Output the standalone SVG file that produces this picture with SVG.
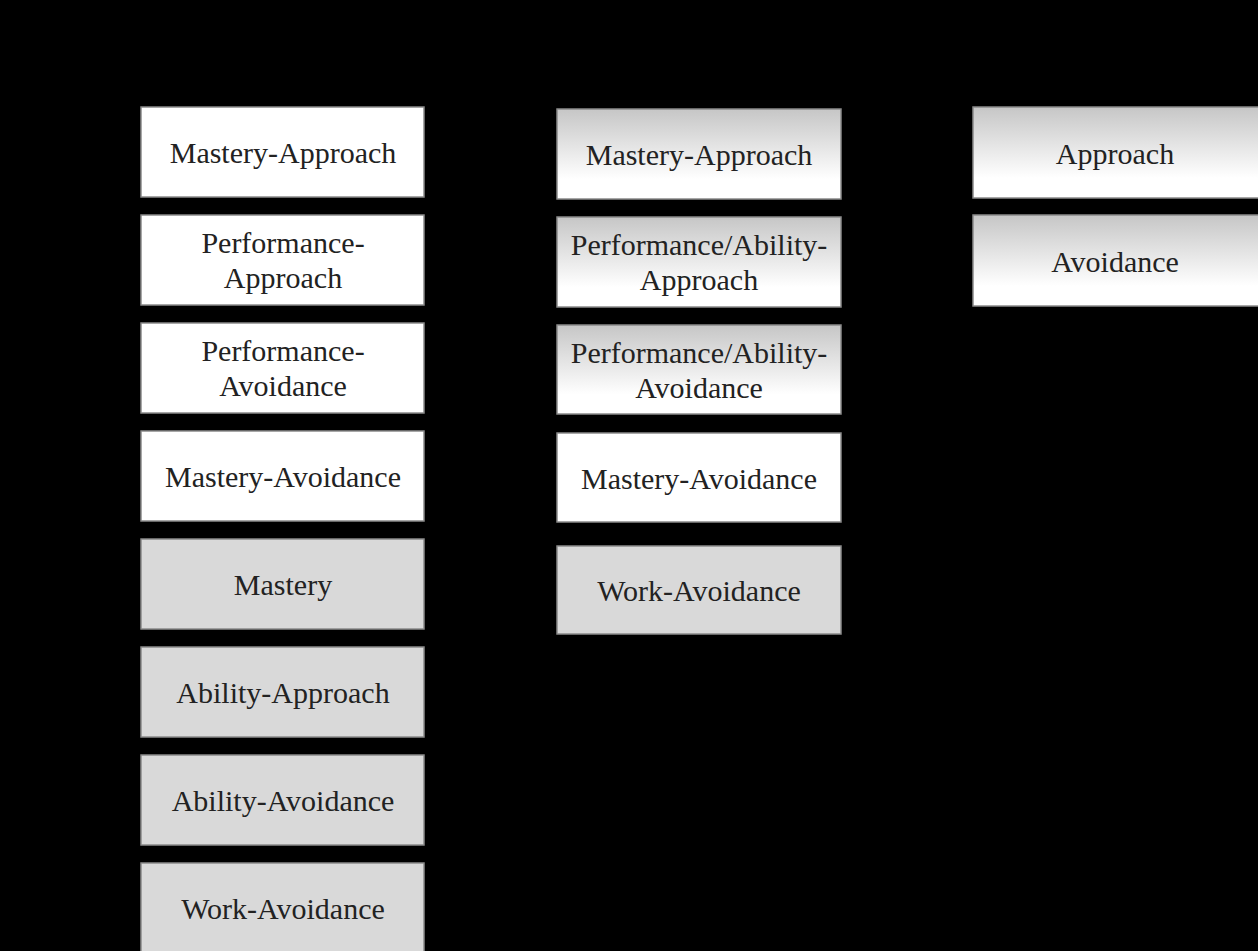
<svg xmlns="http://www.w3.org/2000/svg" width="1258" height="951" viewBox="0 0 1258 951">
<defs>
<linearGradient id="grad" x1="0" y1="0" x2="0" y2="1">
<stop offset="0" stop-color="#c6c6c6"/>
<stop offset="0.78" stop-color="#ffffff"/>
<stop offset="1" stop-color="#ffffff"/>
</linearGradient>
</defs>
<style>
.box{stroke:#8a8a8a;stroke-width:1.5}
.w{fill:#ffffff}
.g{fill:#d9d9d9}
.gr{fill:url(#grad)}
text{font-family:"Liberation Serif","Times New Roman",serif;font-size:30px;fill:#222222;text-anchor:middle}
</style>
<rect x="0" y="0" width="1258" height="951" fill="#000000"/>
<g id="col1">
<g id="n-c1-1"><rect class="box w" x="141" y="107" width="283" height="90"/><text x="283" y="163">Mastery-Approach</text></g>
<g id="n-c1-2"><rect class="box w" x="141" y="215" width="283" height="90"/><text x="283" y="253">Performance-</text><text x="283" y="288">Approach</text></g>
<g id="n-c1-3"><rect class="box w" x="141" y="323" width="283" height="90"/><text x="283" y="361">Performance-</text><text x="283" y="396">Avoidance</text></g>
<g id="n-c1-4"><rect class="box w" x="141" y="431" width="283" height="90"/><text x="283" y="487">Mastery-Avoidance</text></g>
<g id="n-c1-5"><rect class="box g" x="141" y="539" width="283" height="90"/><text x="283" y="595">Mastery</text></g>
<g id="n-c1-6"><rect class="box g" x="141" y="647" width="283" height="90"/><text x="283" y="703">Ability-Approach</text></g>
<g id="n-c1-7"><rect class="box g" x="141" y="755" width="283" height="90"/><text x="283" y="811">Ability-Avoidance</text></g>
<g id="n-c1-8"><rect class="box g" x="141" y="863" width="283" height="100"/><text x="283" y="919">Work-Avoidance</text></g>
</g>
<g id="col2">
<g id="n-c2-1"><rect class="box gr" x="557" y="109" width="284" height="90"/><text x="699" y="165">Mastery-Approach</text></g>
<g id="n-c2-2"><rect class="box gr" x="557" y="217" width="284" height="90"/><text x="699" y="255">Performance/Ability-</text><text x="699" y="290">Approach</text></g>
<g id="n-c2-3"><rect class="box gr" x="557" y="325" width="284" height="89"/><text x="699" y="363">Performance/Ability-</text><text x="699" y="398">Avoidance</text></g>
<g id="n-c2-4"><rect class="box w" x="557" y="433" width="284" height="89"/><text x="699" y="489">Mastery-Avoidance</text></g>
<g id="n-c2-5"><rect class="box g" x="557" y="546" width="284" height="88"/><text x="699" y="601">Work-Avoidance</text></g>
</g>
<g id="col3">
<g id="n-c3-1"><rect class="box gr" x="973" y="107" width="290" height="91"/><text x="1115" y="164">Approach</text></g>
<g id="n-c3-2"><rect class="box gr" x="973" y="215" width="290" height="91"/><text x="1115" y="272">Avoidance</text></g>
</g>
<g id="connectors"></g>
</svg>
